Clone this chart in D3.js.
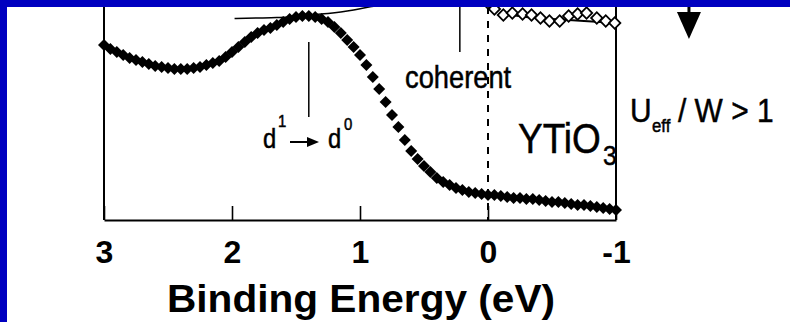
<!DOCTYPE html>
<html>
<head>
<meta charset="utf-8">
<script src="https://cdn.jsdelivr.net/npm/d3@7"></script>
<style>
  body { margin: 0; background: #fff; }
  svg { display: block; font-family: 'Liberation Sans', Arial, sans-serif; }
</style>
</head>
<body>
<svg width="790" height="322"></svg>
<script>
const svg = d3.select('svg');

const width = +svg.attr('width');
const height = +svg.attr('height');

// filled diamonds: YTiO3 spectrum (binding energy in eV, intensity arb. units)
const energy = [
  3.00, 2.95, 2.90, 2.85, 2.80, 2.75, 2.70, 2.65, 2.60, 2.55,
  2.50, 2.45, 2.40, 2.35, 2.30, 2.25, 2.20, 2.15, 2.10, 2.05,
  2.00, 1.95, 1.90, 1.85, 1.80, 1.75, 1.70, 1.65, 1.60, 1.55,
  1.50, 1.45, 1.40, 1.35, 1.30, 1.25, 1.20, 1.15, 1.10, 1.05,
  1.00, 0.95, 0.90, 0.85, 0.80, 0.75, 0.70, 0.65, 0.60, 0.55,
  0.50, 0.45, 0.40, 0.35, 0.30, 0.25, 0.20, 0.15, 0.10, 0.05,
  0.00, -0.05, -0.10, -0.15, -0.20, -0.25, -0.30, -0.35, -0.40, -0.45,
  -0.50, -0.55, -0.60, -0.65, -0.70, -0.75, -0.80, -0.85, -0.90, -0.95,
  -1.00
];
const intensity = [
  175, 171, 168, 165, 162, 160, 158, 156, 154, 153,
  152, 151, 151, 151, 152, 153, 155, 157, 159, 163,
  168, 173, 178, 183, 187, 190, 192, 195, 198, 201,
  203, 204, 204, 203, 201, 198, 193, 187, 180, 173,
  165, 155, 143, 131, 118, 105, 93, 80, 69, 61,
  54, 48, 42, 38, 35, 32, 30, 28, 27, 26,
  25, 25, 24, 23, 22, 22, 21, 21, 20, 19,
  18, 18, 17, 16, 15, 15, 14, 13, 12, 11,
  10
];

// open diamonds running off the top at the right
const openEnergy = [0.00, -0.05, -0.12, -0.19, -0.27, -0.34, -0.41, -0.48, -0.56, -0.63, -0.70, -0.77, -0.85, -0.92, -0.99];
const openIntensity = [217, 211, 205, 207, 206, 205, 202, 199, 199, 204, 206, 207, 202, 199, 197];

// thin fit lines
const peakFitEnergy = [1.98, 1.80, 1.65, 1.50, 1.40, 1.25, 1.15, 1.05, 0.95, 0.88];
const peakFitIntensity = [201.5, 202, 202.5, 203.5, 205, 206.5, 208, 210, 212.5, 214];
const openFitEnergy = [-0.10, -0.30, -0.50, -0.75, -1.00];
const openFitIntensity = [207, 203, 201, 199, 197];

const xTicks = [3, 2, 1, 0, -1];
const xTickLabels = ['3', '2', '1', '0', '-1'];

const render = () => {
  const margin = { top: 7, right: 174, bottom: 102, left: 104 };
  const innerWidth = width - margin.left - margin.right;
  const innerHeight = height - margin.top - margin.bottom;

  const xScale = d3.scaleLinear()
    .domain([3, -1])
    .range([0, innerWidth]);

  const yScale = d3.scaleLinear()
    .domain([0, 213])
    .range([innerHeight, 0]);

  svg.append('rect')
    .attr('width', width).attr('height', height)
    .attr('fill', '#fff');

  const g = svg.append('g')
    .attr('transform', `translate(${margin.left},${margin.top})`);

  // frame: bottom axis with inward ticks, left and right verticals
  const xAxis = d3.axisBottom(xScale)
    .tickValues(xTicks)
    .tickSize(-14)
    .tickSizeOuter(0)
    .tickFormat((d, i) => xTickLabels[i])
    .tickPadding(20);

  const xAxisG = g.append('g')
    .attr('transform', `translate(0,${innerHeight})`)
    .call(xAxis);
  xAxisG.select('.domain').attr('stroke-width', 2);
  xAxisG.selectAll('.tick line').attr('stroke-width', 1.6);
  xAxisG.selectAll('.tick text')
    .attr('y', 43)
    .attr('dy', null)
    .attr('font-size', 32)
    .attr('font-weight', 'bold')
    .attr('font-family', "'Liberation Sans', Arial, sans-serif")
    .attr('fill', '#000');

  [3, -1].forEach(e => {
    g.append('line')
      .attr('x1', xScale(e)).attr('x2', xScale(e))
      .attr('y1', -10).attr('y2', innerHeight)
      .attr('stroke', '#000').attr('stroke-width', 2);
  });

  // dashed Fermi level and marker lines
  g.append('line')
    .attr('x1', xScale(0)).attr('x2', xScale(0))
    .attr('y1', yScale(213)).attr('y2', yScale(0))
    .attr('stroke', '#000').attr('stroke-width', 2)
    .attr('stroke-dasharray', '7,7');

  g.append('line')
    .attr('x1', xScale(1.4)).attr('x2', xScale(1.4))
    .attr('y1', yScale(178)).attr('y2', yScale(103))
    .attr('stroke', '#000').attr('stroke-width', 1.5);

  g.append('line')
    .attr('x1', xScale(0.22)).attr('x2', xScale(0.22))
    .attr('y1', yScale(215)).attr('y2', yScale(168))
    .attr('stroke', '#000').attr('stroke-width', 1.5);

  const line = d3.line()
    .x(d => xScale(d[0]))
    .y(d => yScale(d[1]))
    .curve(d3.curveMonotoneX);

  g.append('path')
    .datum(d3.zip(peakFitEnergy, peakFitIntensity))
    .attr('d', line)
    .attr('fill', 'none').attr('stroke', '#000').attr('stroke-width', 1.5);

  g.append('path')
    .datum(d3.zip(openFitEnergy, openFitIntensity))
    .attr('d', line)
    .attr('fill', 'none').attr('stroke', '#000').attr('stroke-width', 2);

  const square = d3.symbol().type(d3.symbolSquare);

  g.selectAll('.open').data(d3.zip(openEnergy, openIntensity))
    .enter().append('path')
      .attr('class', 'open')
      .attr('d', square.size(64)())
      .attr('transform', d => `translate(${xScale(d[0])},${yScale(d[1])}) rotate(45)`)
      .attr('fill', '#fff')
      .attr('stroke', '#000')
      .attr('stroke-width', 1.8);

  g.selectAll('.filled').data(d3.zip(energy, intensity))
    .enter().append('path')
      .attr('class', 'filled')
      .attr('d', square.size(72)())
      .attr('transform', d => `translate(${xScale(d[0])},${yScale(d[1])}) rotate(45)`)
      .attr('fill', '#000');

  // big down arrow beside the panel
  const ax = xScale(-1.57);
  g.append('line')
    .attr('x1', ax).attr('x2', ax)
    .attr('y1', -7).attr('y2', 8)
    .attr('stroke', '#000').attr('stroke-width', 3);
  g.append('path')
    .attr('d', `M${ax - 12},5L${ax + 12},5L${ax},32Z`)
    .attr('fill', '#000');

  // labels
  const label = (txt, x, y, size) =>
    svg.append('text')
      .attr('transform', `translate(${x},${y}) scale(0.88,1)`)
      .attr('font-size', size)
      .attr('fill', '#000')
      .attr('stroke', '#000')
      .attr('stroke-width', 0.5)
      .text(txt);

  label('coherent', 405, 88, 31);
  label('YTiO', 518, 153, 42);
  label('3', 603, 165, 28);
  label('U', 630, 122, 34);
  label('eff', 652, 132, 19);
  label('/ W > 1', 678, 122, 34);

  label('d', 263, 148, 27);
  label('1', 278, 127, 17);
  svg.append('line')
    .attr('x1', 290).attr('x2', 310)
    .attr('y1', 142).attr('y2', 142)
    .attr('stroke', '#000').attr('stroke-width', 2);
  svg.append('path')
    .attr('d', 'M307,137L319,142L307,147Z')
    .attr('fill', '#000');
  label('d', 328, 148, 27);
  label('0', 344, 130, 17);

  svg.append('text')
    .attr('x', 167)
    .attr('y', 312)
    .attr('font-size', 38)
    .attr('font-weight', 'bold')
    .attr('textLength', 388)
    .attr('lengthAdjust', 'spacingAndGlyphs')
    .attr('fill', '#000')
    .text('Binding Energy (eV)');

  // blue border of the slide
  svg.append('rect')
    .attr('x', 0).attr('y', 0)
    .attr('width', width).attr('height', 7)
    .attr('fill', '#0000c0');
  svg.append('rect')
    .attr('x', 0).attr('y', 0)
    .attr('width', 7).attr('height', height)
    .attr('fill', '#0000c0');
};

render();
</script>
</body>
</html>
